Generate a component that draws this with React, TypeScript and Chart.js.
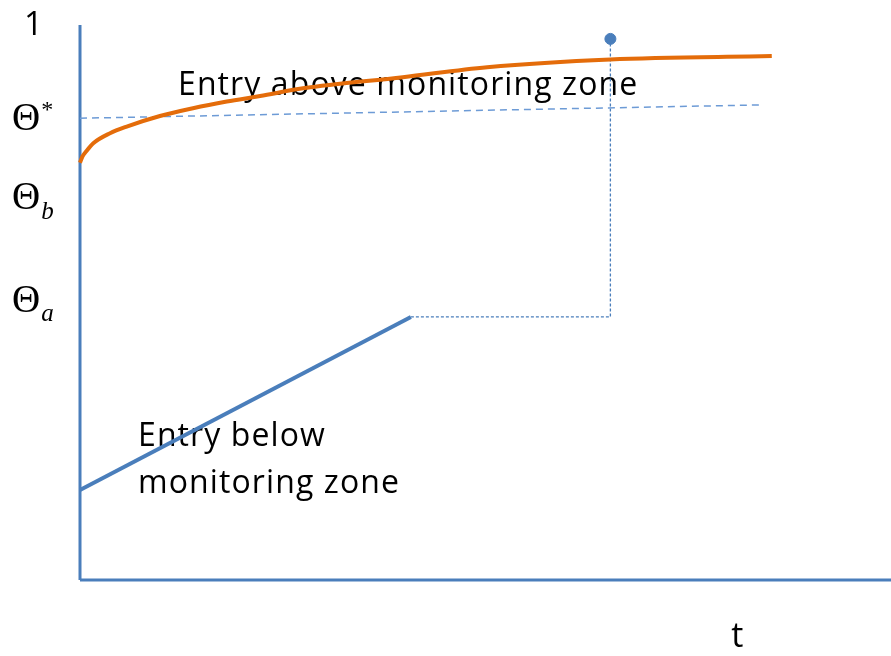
import React, { useEffect, useRef } from "react";
import { Chart, registerables } from "chart.js";

Chart.register(...registerables);

// Axis ranges (t horizontally, state vertically)
const tRange = [0, 10];
const yRange = [0, 1];

// Orange curve: entry above monitoring zone
const aboveT = [0, 0.03, 0.08, 0.164, 0.37, 0.576, 0.986, 1.393, 1.81, 2.22, 2.75, 3.98, 5.02, 6.54, 8.53];
const aboveY = [0.752, 0.763, 0.773, 0.787, 0.805, 0.817, 0.836, 0.85, 0.862, 0.872, 0.886, 0.906, 0.924, 0.938, 0.944];

// Blue line: entry below monitoring zone
const belowT = [0, 4.08];
const belowY = [0.162, 0.474];

// Dashed step from end of blue line to the dot
const stepT = [4.08, 6.54, 6.54];
const stepY = [0.474, 0.474, 0.975];

// Theta* reference line (dashed)
const thetaStarT = [0, 8.38];
const thetaStarY = [0.832, 0.856];

// Dot
const dotT = [6.54];
const dotY = [0.975];

// Y-axis labels
const yTickValues = [1, 0.832, 0.69, 0.505];
const yTickMain = ["1", "Θ", "Θ", "Θ"];
const yTickSup = ["", "*", "", ""];
const yTickSub = ["", "", "b", "a"];

const labelAbove = "Entry above monitoring zone";
const labelBelow = ["Entry below", "monitoring zone"];
const xAxisLabel = "t";

const BLUE = "#4a7ebb";
const ORANGE = "#e46c0a";

const pts = (xs: number[], ys: number[]) => xs.map((x, i) => ({ x, y: ys[i] }));

export default function App() {
  const ref = useRef<HTMLCanvasElement | null>(null);

  useEffect(() => {
    if (!ref.current) return;
    const textPlugin = {
      id: "texts",
      beforeDatasetsDraw(chart: any) {
        const ctx = chart.ctx;
        const xs = chart.scales.x;
        const ys = chart.scales.y;
        ctx.save();
        ctx.fillStyle = "#000";
        ctx.textBaseline = "middle";
        ctx.textAlign = "left";
        // y tick labels
        yTickValues.forEach((v, i) => {
          const py = ys.getPixelForValue(v);
          if (yTickMain[i] === "1") {
            ctx.font = "33px 'Open Sans'";
            ctx.fillText("1", 24, py + 1);
          } else {
            ctx.font = "39px 'Liberation Serif'";
            ctx.fillText(yTickMain[i], 12, py + 2);
            const w = ctx.measureText(yTickMain[i]).width;
            if (yTickSup[i]) {
              ctx.font = "24px 'Liberation Serif'";
              ctx.fillText(yTickSup[i], 12 + w + 1, py - 8);
            }
            if (yTickSub[i]) {
              ctx.font = "italic 25px 'Liberation Serif'";
              ctx.fillText(yTickSub[i], 12 + w + 1, py + 15);
            }
          }
        });
        ctx.font = "32px 'Open Sans'";
        (ctx as any).letterSpacing = "1.1px";
        ctx.fillText(labelAbove, 178, 86);
        ctx.fillText(labelBelow[0], 138, 437);
        ctx.fillText(labelBelow[1], 138, 484);
        (ctx as any).letterSpacing = "0px";
        ctx.font = "34px 'Open Sans'";
        ctx.fillText(xAxisLabel, xs.getPixelForValue(8.03), 637);
        ctx.restore();
      },
    };

    const common = { pointRadius: 0, fill: false, clip: false as any, showLine: true };
    const chart = new Chart(ref.current, {
      type: "scatter",
      data: {
        datasets: [
          { ...common, data: pts([0, 0], [0, 1]), borderColor: BLUE, borderWidth: 3, order: 5 },
          { ...common, data: pts([0, 10], [0, 0]), borderColor: BLUE, borderWidth: 3, order: 5 },
          { ...common, data: pts(thetaStarT, thetaStarY), borderColor: "#6d9bd6", borderWidth: 1.5, borderDash: [7, 5], order: 4 },
          { ...common, data: pts(stepT, stepY), borderColor: BLUE, borderWidth: 1.3, borderDash: [3, 2], order: 4 },
          { ...common, data: pts(belowT, belowY), borderColor: BLUE, borderWidth: 4, order: 2 },
          { ...common, data: pts(aboveT, aboveY), borderColor: ORANGE, borderWidth: 4, cubicInterpolationMode: "monotone", order: 1 },
          { data: pts(dotT, dotY), pointRadius: 5.5, backgroundColor: BLUE, borderColor: BLUE, showLine: false, clip: false as any, order: 0 },
        ] as any,
      },
      options: {
        responsive: false,
        animation: false,
        devicePixelRatio: 1,
        layout: { autoPadding: false, padding: { left: 80, top: 25, right: 0, bottom: 76 } },
        plugins: { legend: { display: false }, tooltip: { enabled: false } },
        scales: {
          x: { type: "linear", min: tRange[0], max: tRange[1], display: false },
          y: { type: "linear", min: yRange[0], max: yRange[1], display: false },
        },
      },
      plugins: [textPlugin],
    });
    return () => chart.destroy();
  }, []);

  return (
    <div style={{ position: "absolute", left: 0, top: 0, width: 891, height: 656, background: "#fff" }}>
      <canvas ref={ref} width={891} height={656} />
    </div>
  );
}
